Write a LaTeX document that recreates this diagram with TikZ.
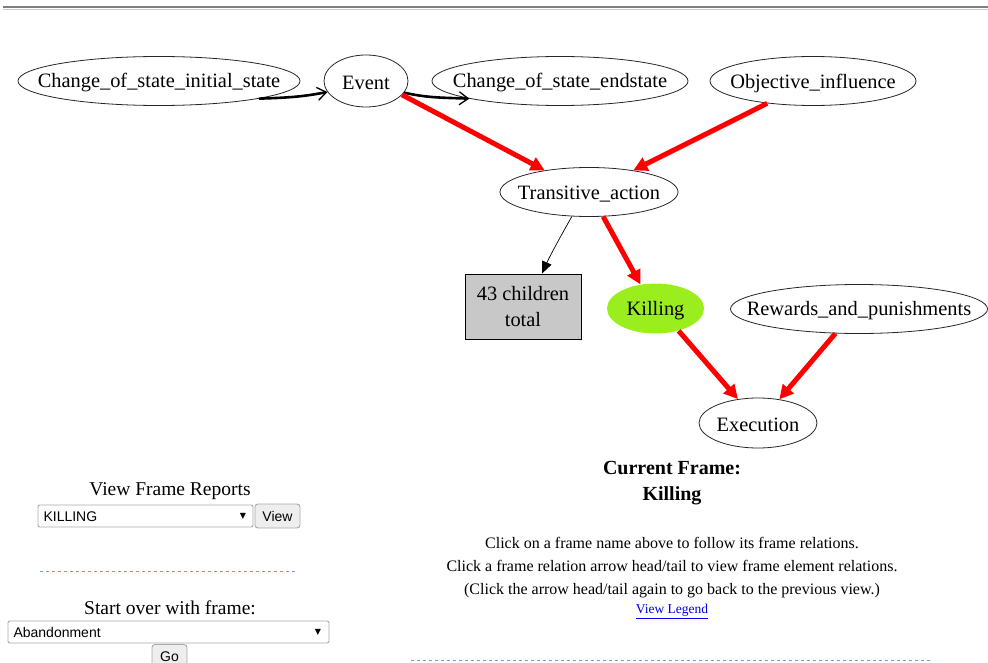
\documentclass[tikz,border=0pt]{standalone}
\usepackage{fontspec}
\setmainfont{Liberation Serif}
\newfontfamily\uisans{Liberation Sans}
\newfontfamily\symfont{DejaVu Sans}
\usetikzlibrary{shapes.geometric,arrows.meta}

\definecolor{killgreen}{RGB}{154,238,30}
\definecolor{boxgray}{RGB}{200,200,200}
\definecolor{rulegray}{RGB}{128,128,128}
\definecolor{rulelight}{RGB}{205,205,205}
\definecolor{dashblue}{RGB}{110,160,215}
\definecolor{linkblue}{RGB}{0,0,238}
\definecolor{fieldgray}{RGB}{169,169,169}
\definecolor{btnfill}{RGB}{238,238,238}

% zero-width label so the ellipse size is set by minimum width/height only;
% the text is lowered slightly while the box keeps its natural height/depth
\newcommand{\ctext}[1]{\makebox[0pt]{\raisebox{-2pt}[\height][\depth]{#1}}}

\tikzset{
  frame/.style={ellipse, draw=black!85, line width=0.8pt, inner sep=0pt,
    font=\fontsize{20.4}{22}\selectfont},
  childbox/.style={rectangle, draw=black, line width=0.9pt, fill=boxgray,
    minimum width=116pt, minimum height=65pt, align=center,
    font=\fontsize{20.4}{26}\selectfont},
  inherit/.style={draw=red, line width=5pt,
    -{Triangle[length=14pt,width=14pt]}},
  usesrel/.style={draw=black, line width=2.6pt,
    -{Straight Barb[length=9pt,width=13pt,line width=1.3pt]}},
  childrel/.style={draw=black, line width=0.7pt,
    -{Triangle[length=12pt,width=10pt]}},
  heading/.style={font=\fontsize{19.5}{22}\selectfont},
  field/.style={draw=fieldgray, line width=0.9pt, fill=white, rounded corners=2pt},
  button/.style={draw=fieldgray, line width=0.9pt, fill=btnfill, rounded corners=3pt},
  uitext/.style={font=\uisans\fontsize{14}{16}\selectfont},
  pickmark/.style={font=\symfont\fontsize{8}{10}\selectfont},
  sepline/.style={draw=dashblue, line width=0.9pt, dash pattern=on 3pt off 3pt},
}

\begin{document}
\begin{tikzpicture}[x=1pt,y=-1pt]
\useasboundingbox (0,0) rectangle (988,663);

% page rule at the top
\draw[rulegray, line width=2pt] (3,7.5) -- (988,7.5);
\draw[rulelight, line width=1pt] (3,9.5) -- (988,9.5);

% frames
\node[frame, minimum width=282pt, minimum height=49pt] (init) at (159,81) {\ctext{Change\_of\_state\_initial\_state}};
\node[frame, minimum width=84pt, minimum height=52pt] (event) at (366,81) {\ctext{Event}};
\node[frame, minimum width=256pt, minimum height=49pt] (endst) at (560,81) {\ctext{Change\_of\_state\_endstate}};
\node[frame, minimum width=206pt, minimum height=49pt] (objinf) at (813,81) {\ctext{Objective\_influence}};
\node[frame, minimum width=178pt, minimum height=49pt] (trans) at (589,192) {\ctext{Transitive\_action}};
\node[childbox] (kids) at (523,306.5) {43 children\\total};
\node[frame, draw=none, fill=killgreen, minimum width=97pt, minimum height=50pt] (kill) at (655.5,308.5) {\ctext{Killing}};
\node[frame, minimum width=257pt, minimum height=49pt] (reward) at (859,309) {\ctext{Rewards\_and\_punishments}};
\node[frame, minimum width=118pt, minimum height=50pt] (exec) at (758,423) {\ctext{Execution}};

% relations
\draw[usesrel] (init.-10) .. controls +(35,-1) and +(-22,4) .. (event.196);
\draw[usesrel] (event.-17) .. controls +(22,5) and +(-30,-1) .. (endst.191);
\draw[inherit] (event.-21) -- (trans.154);
\draw[inherit] (objinf.-154) -- (trans.26);
\draw[childrel] (trans.-125) .. controls +(-8,14) and +(8,-18) .. ([xshift=19pt]kids.north);
\draw[inherit] (trans.-60) -- (kill.122);
\draw[inherit] (kill.-44) -- (exec.130);
\draw[inherit] (reward.-134) -- (exec.48);

% current frame caption and help text
\node[font=\bfseries\fontsize{20}{22}\selectfont] (curhead) at (672,468) {Current Frame:};
\node[font=\bfseries\fontsize{20}{22}\selectfont] (curname) at (672,495.5) {Killing};
\node[align=center, font=\fontsize{16}{23}\selectfont] (help) at (672,568)
  {Click on a frame name above to follow its frame relations.\\
   Click a frame relation arrow head/tail to view frame element relations.\\
   (Click the arrow head/tail again to go back to the previous view.)};
\node[text=linkblue, font=\fontsize{13.5}{15}\selectfont] (legend) at (672,611.5) {\underline{View Legend}};
\draw[sepline] (411,660.5) -- (932,660.5);

% frame report form
\node[heading] (reptitle) at (170,491.5) {View Frame Reports};
\draw[field] (38,505) rectangle (253,527);
\node[uitext, anchor=west] (repval) at (40,516.5) {KILLING};
\node[pickmark] (repmark) at (243,516.5) {▼};
\draw[button] (255,504) rectangle (300,528);
\node[uitext] (repbtn) at (277.5,516.5) {View};
\draw[sepline] (40,571.5) -- (297,571.5);

% restart form
\node[heading] (starttitle) at (170,608) {Start over with frame:};
\draw[field] (8,621) rectangle (329,643);
\node[uitext, anchor=west] (startval) at (10,632.5) {Abandonment};
\node[pickmark] (startmark) at (318,632.5) {▼};
\draw[button] (152,644.5) rectangle (187,668);
\node[uitext] (gobtn) at (169.5,656.5) {Go};
\end{tikzpicture}
\end{document}
